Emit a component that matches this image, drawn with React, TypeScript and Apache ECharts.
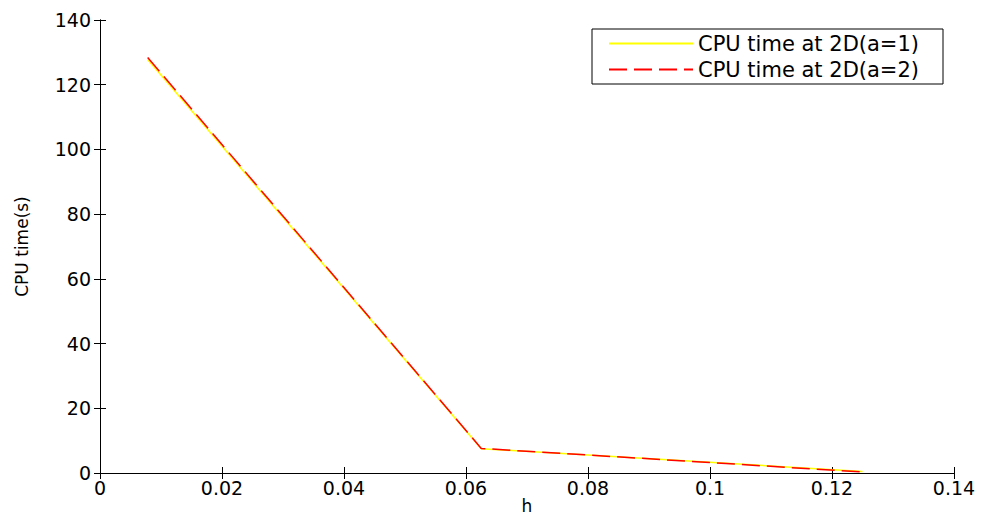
import React, { useEffect, useRef } from "react";
import * as echarts from "echarts";

const hValues = [0.0078125, 0.0625, 0.125];
const cpuA1 = [127.8, 7.5, 0.5];
const cpuA2 = [128.4, 7.6, 0.3];
const seriesNames = ["CPU time at 2D(a=1)", "CPU time at 2D(a=2)"];
const xTicks = { min: 0, max: 0.14, interval: 0.02 };
const yTicks = { min: 0, max: 140, interval: 20 };

const FONT = "DejaVu Sans";

export default function App() {
  const ref = useRef<HTMLDivElement>(null);
  useEffect(() => {
    if (!ref.current) return;
    const chart = echarts.init(ref.current, null, { renderer: "svg" });
    const axisLine = { show: true, lineStyle: { color: "#000", width: 1 } };
    const tick = { show: true, inside: true, length: 6, lineStyle: { color: "#000", width: 1 } };
    const label = { color: "#000", fontFamily: FONT, fontSize: 19 };
    chart.setOption({
      animation: false,
      backgroundColor: "#fff",
      grid: { left: 100, right: 27, top: 20, bottom: 45, containLabel: false, outerBoundsMode: "none" },
      legend: {
        orient: "vertical",
        left: 592,
        top: 29,
        padding: [4, 24, 4, 16],
        itemGap: 5,
        itemWidth: 84,
        itemHeight: 14,
        borderColor: "#000",
        borderWidth: 1,
        backgroundColor: "#fff",
        itemStyle: { color: "rgba(0,0,0,0)", borderWidth: 0, opacity: 0 },
        textStyle: { color: "#000", fontFamily: FONT, fontSize: 21 },
        data: seriesNames,
      },
      xAxis: [
        {
          type: "value",
          position: "bottom",
          ...xTicks,
          name: "h",
          nameLocation: "middle",
          nameGap: 24,
          nameMoveOverlap: false,
          nameTextStyle: { color: "#000", fontFamily: FONT, fontSize: 17, lineHeight: 18 },
          axisLine,
          axisTick: tick,
          axisLabel: { ...label, margin: 5, formatter: (v: number) => String(Number(v.toFixed(4))) },
          splitLine: { show: false },
        },
        {
          type: "value",
          position: "top",
          ...xTicks,
          axisLine,
          axisTick: tick,
          axisLabel: { show: false },
          splitLine: { show: false },
        },
      ],
      yAxis: [
        {
          type: "value",
          position: "left",
          ...yTicks,
          name: "CPU time(s)",
          nameLocation: "middle",
          nameGap: 70,
          nameMoveOverlap: false,
          nameTextStyle: { color: "#000", fontFamily: FONT, fontSize: 17 },
          axisLine,
          axisTick: tick,
          axisLabel: { ...label, margin: 9 },
          splitLine: { show: false },
        },
        {
          type: "value",
          position: "right",
          ...yTicks,
          axisLine,
          axisTick: tick,
          axisLabel: { show: false },
          splitLine: { show: false },
        },
      ],
      series: [
        {
          name: seriesNames[0],
          type: "line",
          symbol: "none",
          data: hValues.map((h, i) => [h, cpuA1[i]]),
          lineStyle: { color: "#ffff00", width: 1.5 },
          itemStyle: { color: "#ffff00" },
        },
        {
          name: seriesNames[1],
          type: "line",
          symbol: "none",
          data: hValues.map((h, i) => [h, cpuA2[i]]),
          lineStyle: { color: "#ff0000", width: 1.5, type: [18, 7] },
          itemStyle: { color: "#ff0000" },
        },
      ],
    });
    return () => chart.dispose();
  }, []);
  return <div ref={ref} style={{ width: 981, height: 518, position: "absolute", left: 0, top: 0 }} />;
}
